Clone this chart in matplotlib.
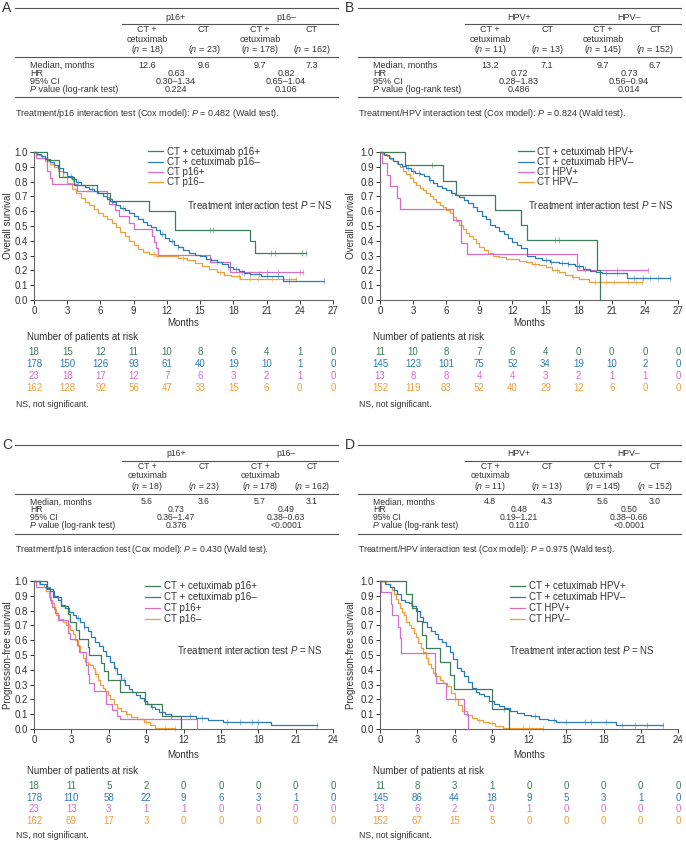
import numpy as np
import matplotlib
matplotlib.use("Agg")
import matplotlib.pyplot as plt
from matplotlib.lines import Line2D
from matplotlib.text import Annotation
from matplotlib.transforms import blended_transform_factory

plt.rcParams["font.family"] = ["Liberation Sans", "DejaVu Sans"]
plt.rcParams["mathtext.fontset"] = "custom"
plt.rcParams["mathtext.rm"] = "Liberation Sans"
plt.rcParams["mathtext.it"] = "Liberation Sans:italic"

W, H = 686, 842

# === COLORES ===
GREEN, BLUE, PINK, ORANGE = "#3f7c59", "#2e7ab9", "#d36fc6", "#ef9f3b"
L_GREEN, L_BLUE, L_PINK, L_ORANGE = "#93c2a2", "#8cc3e6", "#eaa9de", "#f6cb8e"
TXT = "#333333"
FS = 7.0  # texto de los graficos

# === TABLAS ===
a_groups = ["p16+", "p16–"]
a_n = [18, 23, 178, 162]
a_median = ["12.6", "9.6", "9.7", "7.3"]
a_hr = ["0.63", "0.82"]
a_ci = ["0.30–1.34", "0.65–1.04"]
a_p = ["0.224", "0.106"]
a_inter = "0.482"

b_groups = ["HPV+", "HPV–"]
b_n = [11, 13, 145, 152]
b_median = ["13.2", "7.1", "9.7", "6.7"]
b_hr = ["0.72", "0.73"]
b_ci = ["0.28–1.83", "0.56–0.94"]
b_p = ["0.486", "0.014"]
b_inter = "0.824"

c_groups = ["p16+", "p16–"]
c_n = [18, 23, 178, 162]
c_median = ["5.6", "3.6", "5.7", "3.1"]
c_hr = ["0.73", "0.49"]
c_ci = ["0.36–1.47", "0.38–0.63"]
c_p = ["0.376", "<0.0001"]
c_inter = "0.430"

d_groups = ["HPV+", "HPV–"]
d_n = [11, 13, 145, 152]
d_median = ["4.8", "4.3", "5.6", "3.0"]
d_hr = ["0.48", "0.50"]
d_ci = ["0.19–1.21", "0.38–0.66"]
d_p = ["0.110", "<0.0001"]
d_inter = "0.975"

# === CURVAS A (OS, p16) ===
a_cetpos_t = [0, 1.2, 2.25, 3.65, 5.7, 6.85, 10.4, 12.75, 19.5, 19.95, 24.6]
a_cetpos_s = [1.0, 0.944, 0.833, 0.778, 0.722, 0.667, 0.60, 0.476, 0.40, 0.315, 0.315]
a_cetpos_c = [15.9, 16.2, 21.4, 21.8, 24.2, 24.6]
a_cetneg_t = [0, 0.3, 0.6, 1.0, 1.4, 1.8, 2.2, 2.6, 3.0, 3.4, 3.8, 4.2, 4.6, 5.0, 5.4, 5.8, 6.2,
              6.6, 7.0, 7.4, 7.8, 8.2, 8.6, 9.0, 9.4, 9.8, 10.2, 10.6, 11.0, 11.4, 11.8, 12.2,
              12.6, 13.0, 13.5, 14.0, 14.5, 15.0, 15.5, 16.0, 16.5, 17.0, 17.5, 18.0, 18.5,
              19.0, 19.5, 20.5, 21.5, 22.5, 26.2]
a_cetneg_s = [1.0, 0.985, 0.97, 0.95, 0.93, 0.91, 0.89, 0.865, 0.84, 0.82, 0.80, 0.78, 0.765,
              0.75, 0.735, 0.72, 0.70, 0.68, 0.66, 0.64, 0.625, 0.61, 0.59, 0.57, 0.55, 0.53,
              0.51, 0.49, 0.47, 0.445, 0.42, 0.40, 0.375, 0.355, 0.335, 0.32, 0.305, 0.295,
              0.28, 0.27, 0.255, 0.24, 0.225, 0.21, 0.195, 0.185, 0.175, 0.165, 0.16, 0.13, 0.13]
a_cetneg_c = [3.3, 3.5, 4.0, 5.2, 7.0, 8.0, 11.6, 12.5, 13.0, 16.0, 17.5, 18.2, 19.0, 19.5,
              20.3, 21.0, 22.0, 23.0, 26.2]
a_ctpos_t = [0, 0.15, 1.2, 1.4, 1.6, 3.9, 6.6, 6.8, 7.35, 7.65, 8.6, 9.0, 10.65, 10.85, 11.05,
             11.2, 15.9, 17.7, 24.3]
a_ctpos_s = [1.0, 0.957, 0.87, 0.826, 0.783, 0.739, 0.696, 0.652, 0.609, 0.565, 0.522, 0.478,
             0.435, 0.391, 0.348, 0.305, 0.254, 0.19, 0.19]
a_ctpos_c = [16.5, 18.8, 21.0, 22.0, 24.0, 24.3]
a_ctneg_t = [0, 0.3, 0.7, 1.0, 1.4, 1.8, 2.2, 2.6, 3.0, 3.4, 3.8, 4.2, 4.6, 5.0, 5.4, 5.8, 6.2,
             6.6, 7.0, 7.4, 7.8, 8.2, 8.6, 9.0, 9.4, 9.8, 10.4, 11.0, 12.0, 13.0, 13.8, 14.5,
             15.2, 15.8, 16.5, 17.2, 17.8, 18.6, 23.7]
a_ctneg_s = [1.0, 0.98, 0.96, 0.94, 0.92, 0.90, 0.87, 0.83, 0.79, 0.75, 0.72, 0.69, 0.665, 0.64,
             0.615, 0.59, 0.565, 0.545, 0.52, 0.495, 0.46, 0.43, 0.40, 0.37, 0.345, 0.325, 0.31,
             0.30, 0.295, 0.285, 0.27, 0.25, 0.23, 0.21, 0.19, 0.17, 0.16, 0.145, 0.145]
a_ctneg_c = [10.8, 13.5, 16.8, 18.5, 19.5, 20.2, 21.5, 22.5, 23.0, 23.7]
a_risk = [[18, 15, 12, 11, 10, 8, 6, 4, 1, 0],
          [178, 150, 126, 93, 61, 40, 19, 10, 1, 0],
          [23, 18, 17, 12, 7, 6, 3, 2, 1, 0],
          [162, 128, 92, 56, 47, 33, 15, 6, 0, 0]]

# === CURVAS B (OS, HPV) ===
b_cetpos_t = [0, 2.25, 5.7, 6.9, 10.45, 12.75, 13.35, 19.65, 19.95]
b_cetpos_s = [1.0, 0.909, 0.805, 0.708, 0.607, 0.506, 0.405, 0.202, 0.0]
b_cetpos_c = [4.75, 15.9, 16.2]
b_cetneg_t = [0, 0.4, 0.8, 1.2, 1.6, 2.0, 2.4, 2.8, 3.2, 3.6, 4.0, 4.4, 4.8, 5.2, 5.6, 6.0, 6.4,
              6.8, 7.2, 7.6, 8.0, 8.4, 8.8, 9.2, 9.6, 10.0, 10.4, 10.8, 11.2, 11.6, 12.0, 12.4,
              12.8, 13.3, 14.0, 14.7, 15.4, 16.2, 17.0, 17.7, 18.4, 19.0, 19.6, 20.1, 22.4, 26.3]
b_cetneg_s = [1.0, 0.98, 0.96, 0.94, 0.92, 0.905, 0.89, 0.875, 0.86, 0.85, 0.835, 0.81, 0.79,
              0.77, 0.755, 0.74, 0.725, 0.71, 0.695, 0.675, 0.655, 0.63, 0.60, 0.57, 0.545,
              0.51, 0.49, 0.465, 0.445, 0.42, 0.395, 0.37, 0.35, 0.30, 0.285, 0.27, 0.26, 0.25,
              0.24, 0.23, 0.21, 0.195, 0.19, 0.18, 0.15, 0.15]
b_cetneg_c = [2.5, 3.0, 3.5, 4.5, 6.5, 15.0, 15.5, 16.5, 17.0, 18.0, 18.6, 20.5, 21.5, 23.0,
              23.8, 24.5, 25.2, 26.3]
b_ctpos_t = [0, 0.15, 0.6, 0.9, 1.55, 1.8, 6.6, 7.35, 7.85, 17.85, 24.3]
b_ctpos_s = [1.0, 0.923, 0.846, 0.769, 0.692, 0.615, 0.538, 0.385, 0.308, 0.205, 0.205]
b_ctpos_c = [21.5, 24.3]
b_ctneg_t = [0, 0.3, 0.6, 0.9, 1.2, 1.5, 1.8, 2.1, 2.4, 2.7, 3.0, 3.3, 3.6, 3.9, 4.2, 4.5, 4.8,
             5.1, 5.4, 5.7, 6.0, 6.3, 6.6, 6.9, 7.2, 7.5, 7.8, 8.1, 8.4, 8.7, 9.0, 9.4, 9.8,
             10.2, 10.8, 11.4, 12.0, 12.6, 13.2, 13.8, 14.4, 15.0, 15.6, 16.2, 16.8, 17.4,
             18.0, 18.9, 23.7]
b_ctneg_s = [1.0, 0.985, 0.97, 0.955, 0.94, 0.92, 0.90, 0.875, 0.85, 0.825, 0.80, 0.78, 0.76,
             0.74, 0.72, 0.70, 0.68, 0.66, 0.645, 0.63, 0.61, 0.59, 0.56, 0.535, 0.51, 0.48,
             0.455, 0.43, 0.41, 0.385, 0.36, 0.34, 0.32, 0.30, 0.29, 0.28, 0.275, 0.265, 0.255,
             0.245, 0.235, 0.22, 0.20, 0.19, 0.17, 0.155, 0.14, 0.124, 0.124]
b_ctneg_c = [14.0, 16.0, 17.5, 19.5, 20.5, 21.2, 22.5, 23.2, 23.7]
b_risk = [[11, 10, 8, 7, 6, 4, 0, 0, 0, 0],
          [145, 123, 101, 75, 52, 34, 19, 10, 2, 0],
          [13, 8, 8, 4, 4, 3, 2, 1, 1, 0],
          [152, 119, 83, 52, 40, 29, 12, 6, 0, 0]]

# === CURVAS C (PFS, p16) ===
c_cetpos_t = [0, 1.07, 1.5, 2.2, 2.75, 2.9, 3.4, 3.6, 4.3, 4.45, 5.4, 5.6, 5.9, 6.9, 8.9,
              10.3, 11.8]
c_cetpos_s = [1.0, 0.944, 0.889, 0.833, 0.778, 0.722, 0.667, 0.611, 0.556, 0.50, 0.444, 0.389,
              0.333, 0.25, 0.17, 0.085, 0.0]
c_cetpos_c = []
c_cetneg_t = [0, 0.5, 1.0, 1.3, 1.6, 1.9, 2.2, 2.5, 2.8, 3.1, 3.4, 3.7, 4.0, 4.3, 4.6, 4.9, 5.2,
              5.5, 5.8, 6.1, 6.4, 6.7, 7.0, 7.3, 7.6, 7.9, 8.2, 8.5, 8.8, 9.1, 9.4, 9.7, 10.0,
              10.5, 11.0, 12.0, 13.0, 14.0, 15.2, 16.5, 19.0, 22.7]
c_cetneg_s = [1.0, 0.98, 0.95, 0.93, 0.90, 0.87, 0.84, 0.82, 0.79, 0.77, 0.75, 0.72, 0.69, 0.66,
              0.62, 0.59, 0.56, 0.53, 0.49, 0.45, 0.41, 0.37, 0.33, 0.30, 0.27, 0.25, 0.23,
              0.21, 0.19, 0.17, 0.15, 0.135, 0.115, 0.10, 0.09, 0.085, 0.075, 0.06, 0.05, 0.045,
              0.025, 0.025]
c_cetneg_c = [3.5, 4.0, 6.5, 7.2, 9.5, 11.0, 12.5, 13.5, 15.5, 16.5, 17.5, 18.0, 22.7]
c_ctpos_t = [0, 0.2, 1.3, 1.45, 1.7, 1.9, 2.7, 2.85, 3.45, 3.6, 4.15, 4.3, 4.45, 4.85, 5.8, 6.3,
             6.7, 6.9, 13.1]
c_ctpos_s = [1.0, 0.957, 0.87, 0.826, 0.783, 0.739, 0.652, 0.609, 0.565, 0.522, 0.435, 0.37,
             0.31, 0.26, 0.17, 0.13, 0.087, 0.065, 0.0]
c_ctpos_c = [1.0]
c_ctneg_t = [0, 0.4, 0.8, 1.0, 1.2, 1.4, 1.6, 1.8, 2.0, 2.3, 2.6, 2.9, 3.1, 3.3, 3.5, 3.7, 3.9,
             4.1, 4.3, 4.5, 4.7, 4.9, 5.1, 5.3, 5.5, 5.7, 5.9, 6.1, 6.4, 6.7, 7.0, 7.4, 7.8,
             8.3, 8.8, 9.3, 9.7, 11.3]
c_ctneg_s = [1.0, 0.98, 0.96, 0.93, 0.89, 0.85, 0.81, 0.77, 0.74, 0.72, 0.70, 0.67, 0.64, 0.60,
             0.56, 0.52, 0.48, 0.45, 0.44, 0.43, 0.41, 0.37, 0.33, 0.30, 0.28, 0.26, 0.23,
             0.20, 0.17, 0.14, 0.12, 0.10, 0.08, 0.065, 0.045, 0.03, 0.008, 0.008]
c_ctneg_c = [2.8, 4.2, 5.0, 7.5, 9.0, 10.5, 11.3, 17.9]
c_risk = [[18, 11, 5, 2, 0, 0, 0, 0, 0],
          [178, 110, 58, 22, 9, 6, 3, 1, 0],
          [23, 13, 3, 1, 1, 0, 0, 0, 0],
          [162, 69, 17, 3, 0, 0, 0, 0, 0]]

# === CURVAS D (PFS, HPV) ===
d_cetpos_t = [0, 2.1, 2.6, 2.95, 3.4, 3.7, 4.8, 5.65, 5.95, 9.0, 10.4]
d_cetpos_s = [1.0, 0.909, 0.818, 0.727, 0.636, 0.545, 0.455, 0.364, 0.273, 0.136, 0.0]
d_cetpos_c = [10.0]
d_cetneg_t = [0, 0.4, 0.8, 1.1, 1.4, 1.7, 2.0, 2.3, 2.6, 2.9, 3.2, 3.5, 3.8, 4.1, 4.4, 4.7, 5.0,
              5.3, 5.6, 5.9, 6.2, 6.5, 6.8, 7.1, 7.4, 7.7, 8.0, 8.4, 8.8, 9.2, 9.6, 10.0, 10.5,
              11.0, 11.6, 12.2, 12.8, 13.5, 14.2, 19.0, 22.8]
d_cetneg_s = [1.0, 0.98, 0.96, 0.94, 0.91, 0.87, 0.86, 0.85, 0.83, 0.80, 0.76, 0.72, 0.69, 0.66,
              0.64, 0.61, 0.59, 0.56, 0.52, 0.47, 0.41, 0.39, 0.36, 0.32, 0.28, 0.25, 0.235,
              0.22, 0.19, 0.17, 0.155, 0.14, 0.125, 0.11, 0.095, 0.085, 0.07, 0.06, 0.05, 0.03,
              0.03]
d_cetneg_c = [2.5, 12.5, 14.0, 15.0, 16.5, 17.0, 18.2, 19.5, 20.5, 21.5, 22.8]
d_ctpos_t = [0, 0.1, 0.85, 1.0, 1.45, 1.6, 1.7, 4.4, 4.45, 4.5, 5.3, 6.8, 7.1]
d_ctpos_s = [1.0, 0.923, 0.846, 0.769, 0.692, 0.615, 0.513, 0.41, 0.36, 0.308, 0.205, 0.103, 0.0]
d_ctpos_c = []
d_ctneg_t = [0, 0.5, 0.8, 1.0, 1.15, 1.3, 1.45, 1.6, 1.75, 1.9, 2.1, 2.3, 2.5, 2.7, 2.9, 3.1,
             3.3, 3.5, 3.7, 3.9, 4.1, 4.3, 4.5, 4.8, 5.1, 5.4, 5.7, 6.0, 6.3, 6.6, 7.0, 7.4,
             7.8, 8.3, 8.8, 9.3, 9.9, 13.1]
d_ctneg_s = [1.0, 0.98, 0.96, 0.94, 0.91, 0.88, 0.85, 0.82, 0.79, 0.77, 0.72, 0.70, 0.68, 0.65,
             0.62, 0.58, 0.55, 0.52, 0.48, 0.44, 0.41, 0.38, 0.36, 0.33, 0.31, 0.29, 0.24,
             0.20, 0.16, 0.12, 0.095, 0.075, 0.06, 0.045, 0.04, 0.018, 0.007, 0.007]
d_ctneg_c = [3.5, 6.0, 8.0, 9.0, 11.5, 12.0, 13.1]
d_risk = [[11, 8, 3, 1, 0, 0, 0, 0, 0],
          [145, 86, 44, 18, 9, 5, 3, 1, 0],
          [13, 6, 2, 0, 1, 0, 0, 0, 0],
          [152, 67, 15, 5, 0, 0, 0, 0, 0]]


def px(x, y):
    return x / W, 1 - y / H


def hline(fig, x1, x2, y):
    (a, yy), (b, _) = px(x1, y), px(x2, y)
    fig.add_artist(Line2D([a, b], [yy, yy], transform=fig.transFigure,
                          color="#555555", lw=0.8))


def draw_table(fig, x0, y0, letter, marker, groups, ns, medians, hrs, cis, pvals, inter, fs):
    def t(x, y, s, ha="center", **kw):
        return fig.text(*px(x0 + x, y0 + y), s, ha=ha, va="center", fontsize=fs, color=TXT, **kw)

    fig.text(*px(x0 + 2, y0 + 8), letter, ha="left", va="center", fontsize=10, color=TXT)
    hline(fig, x0 + 15, x0 + 338, y0 + 8)
    cols = [147, 204, 260, 312]
    gcen = [176, 286]
    for g, gx in zip(groups, gcen):
        t(gx, 17, g)
    hline(fig, x0 + 122, x0 + 338, y0 + 24)
    for i, (cx, n) in enumerate(zip(cols, ns)):
        if i % 2 == 0:
            t(cx, 30, "CT +")
            t(cx, 39, "cetuximab")
        else:
            t(cx, 30, "CT")
        t(cx, 49, "($n$ = %d)" % n)
    hline(fig, x0 + 15, x0 + 338, y0 + 57)
    t(30, 65, "Median, months", ha="left")
    t(30, 73, "HR", ha="left")
    t(30, 81, "95% CI", ha="left")
    # P en cursiva sin mathtext (caja de texto mas baja)
    p_it = t(30, 89, "P", ha="left", fontstyle="italic")
    fig.add_artist(Annotation(" value (log-rank test)", xy=(1, 0.5), xycoords=p_it,
                              ha="left", va="center", fontsize=fs, color=TXT))
    for cx, m in zip(cols, medians):
        t(cx, 65, m)
    for gx, hr, ci, p in zip(gcen, hrs, cis, pvals):
        t(gx, 73, hr)
        t(gx, 81, ci)
        t(gx, 89, p)
    hline(fig, x0 + 15, x0 + 338, y0 + 97)
    t(15, 113, "Treatment/%s interaction test (Cox model): $P$ = %s (Wald test)." % (marker, inter),
      ha="left")


def km(ax, t, s, cens, color, light, label):
    line, = ax.plot(t, s, drawstyle="steps-post", color=color, lw=0.9, label=label,
                    clip_on=False, zorder=3)
    t = np.asarray(t)
    s = np.asarray(s)
    if len(cens):
        idx = np.searchsorted(t, cens, side="right") - 1
        ax.plot(cens, s[idx], ls="none", marker="|", ms=4, mew=0.7, color=light,
                clip_on=False, zorder=2)
    return line


def draw_plot(fig, x0, left, right, top, bottom, xmax, ylabel, series, labels, risk,
              leg_xy, leg_sp, note_xy, below):
    ax = fig.add_axes([left / W, 1 - bottom / H, (right - left) / W, (bottom - top) / H])
    colors = [GREEN, BLUE, PINK, ORANGE]
    lights = [L_GREEN, L_BLUE, L_PINK, L_ORANGE]
    handles = [None] * 4
    for k in [3, 2, 1, 0]:
        tt, ss, cc = series[k]
        handles[k] = km(ax, tt, ss, cc, colors[k], lights[k], labels[k])
    ax.set_xlim(0, xmax)
    ax.set_ylim(0, 1.0)
    xt = list(range(0, xmax + 1, 3))
    ax.set_xticks(xt)
    ax.set_yticks(np.round(np.arange(0, 1.01, 0.1), 1))
    ax.set_yticklabels(["%.1f" % v for v in np.arange(0, 1.01, 0.1)])
    for sp in ["top", "right"]:
        ax.spines[sp].set_visible(False)
    for sp in ["left", "bottom"]:
        ax.spines[sp].set_color("#666666")
        ax.spines[sp].set_linewidth(0.8)
    ax.tick_params(length=3, width=0.7, pad=1.5, labelsize=FS, colors="#333333")
    ax.patch.set_alpha(0)

    ax.legend(handles=handles, loc="upper left", bbox_to_anchor=leg_xy, frameon=False,
              fontsize=FS, handlelength=1.6, handletextpad=0.4, labelspacing=leg_sp,
              borderpad=0, borderaxespad=0, labelcolor=TXT)
    ax.text(note_xy[0], note_xy[1], "Treatment interaction test $P$ = NS",
            transform=ax.transAxes, ha="left", va="center", fontsize=FS, color=TXT)

    fig.text(*px(x0 + 8, (top + bottom) / 2), ylabel, rotation=90, ha="center", va="center",
             fontsize=FS, color=TXT)
    fig.text(*px((left + right) / 2, bottom + below[0]), "Months", ha="center", va="center",
             fontsize=FS, color=TXT)
    fig.text(*px(left - 7, bottom + below[1]), "Number of patients at risk", ha="left",
             va="center", fontsize=FS, color=TXT)
    trans = blended_transform_factory(ax.transData, fig.transFigure)
    for i, row in enumerate(risk):
        yy = 1 - (bottom + below[2] + i * below[3]) / H
        for xv, val in zip(xt, row):
            ax.text(xv, yy, str(val), transform=trans, ha="center", va="center",
                    fontsize=FS, color=colors[i])
    fig.text(*px(x0 + 16, bottom + below[4]), "NS, not significant.", ha="left", va="center",
             fontsize=6.2, color=TXT)


fig = plt.figure(figsize=(W / 100, H / 100), dpi=100)

lab_p16 = ["CT + cetuximab p16+", "CT + cetuximab p16–", "CT p16+", "CT p16–"]
lab_hpv = ["CT + cetuximab HPV+", "CT + cetuximab HPV–", "CT HPV+", "CT HPV–"]

# --- fila superior ---
draw_table(fig, 0, 0, "A", "p16", a_groups, a_n, a_median, a_hr, a_ci, a_p, a_inter, 6.5)
draw_table(fig, 343, 0, "B", "HPV", b_groups, b_n, b_median, b_hr, b_ci, b_p, b_inter, 6.5)
below_top = [23, 37, 52, 12, 104]
draw_plot(fig, 0, 34, 333, 152, 300, 27, "Overall survival",
          [(a_cetpos_t, a_cetpos_s, a_cetpos_c), (a_cetneg_t, a_cetneg_s, a_cetneg_c),
           (a_ctpos_t, a_ctpos_s, a_ctpos_c), (a_ctneg_t, a_ctneg_s, a_ctneg_c)],
          lab_p16, a_risk, (0.381, 1.035), 0.02, (0.512, 0.642), below_top)
draw_plot(fig, 343, 380, 678, 152, 300, 27, "Overall survival",
          [(b_cetpos_t, b_cetpos_s, b_cetpos_c), (b_cetneg_t, b_cetneg_s, b_cetneg_c),
           (b_ctpos_t, b_ctpos_s, b_ctpos_c), (b_ctneg_t, b_ctneg_s, b_ctneg_c)],
          lab_hpv, b_risk, (0.463, 1.035), 0.02, (0.497, 0.642), below_top)

# --- fila inferior ---
draw_table(fig, 0, 437, "C", "p16", c_groups, c_n, c_median, c_hr, c_ci, c_p, c_inter, 6.2)
draw_table(fig, 343, 437, "D", "HPV", d_groups, d_n, d_median, d_hr, d_ci, d_p, d_inter, 6.2)
below_bot = [26, 42, 57, 11.7, 107]
draw_plot(fig, 0, 34, 333, 581, 729, 24, "Progression-free survival",
          [(c_cetpos_t, c_cetpos_s, c_cetpos_c), (c_cetneg_t, c_cetneg_s, c_cetneg_c),
           (c_ctpos_t, c_ctpos_s, c_ctpos_c), (c_ctneg_t, c_ctneg_s, c_ctneg_c)],
          lab_p16, c_risk, (0.371, 1.0), 0.1, (0.478, 0.534), below_bot)
draw_plot(fig, 343, 380, 678, 581, 729, 24, "Progression-free survival",
          [(d_cetpos_t, d_cetpos_s, d_cetpos_c), (d_cetneg_t, d_cetneg_s, d_cetneg_c),
           (d_ctpos_t, d_ctpos_s, d_ctpos_c), (d_ctneg_t, d_ctneg_s, d_ctneg_c)],
          lab_hpv, d_risk, (0.436, 1.0), 0.1, (0.433, 0.534), below_bot)

fig.savefig("out.png", dpi=100)
